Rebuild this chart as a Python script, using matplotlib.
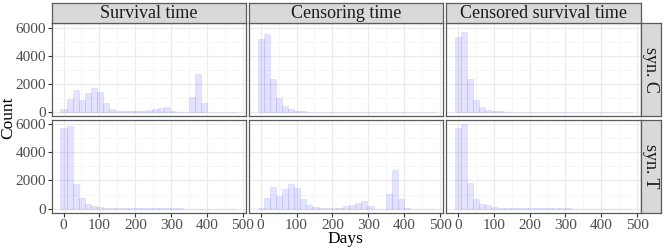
import numpy as np
import matplotlib
matplotlib.use("Agg")
import matplotlib.pyplot as plt

plt.rcParams['font.family'] = ['Liberation Serif', 'DejaVu Serif']

# histogram counts per bin (bins of ~17 days, first bin centred on 0)
bin_width = 17
n_bins = 29
bin_centers = np.arange(n_bins) * bin_width

surv_C = [210, 910, 1565, 865, 1355, 1680, 1425, 630, 210, 95, 40, 30, 30, 45, 165,
          235, 300, 375, 95, 10, 5, 1050, 2700, 650, 10, 5, 5, 5, 5]
cens_C = [5190, 5560, 2310, 1005, 445, 190, 95, 45, 25, 15, 12, 10, 10, 8, 8,
          8, 6, 6, 5, 5, 5, 5, 5, 5, 5, 5, 4, 4, 4]
censsurv_C = [5300, 5700, 2340, 865, 375, 165, 70, 30, 15, 10, 8, 6, 5, 5, 4,
              4, 4, 3, 3, 3, 3, 3, 3, 3, 2, 2, 2, 2, 2]
surv_T = [5700, 5840, 1775, 725, 350, 210, 115, 70, 45, 25, 20, 15, 12, 10, 10,
          8, 8, 7, 6, 6, 5, 5, 5, 5, 4, 4, 4, 4, 4]
cens_T = [20, 725, 1540, 865, 1425, 1750, 1495, 680, 235, 95, 70, 40, 40, 70, 210,
          280, 420, 515, 165, 5, 5, 1050, 2710, 655, 10, 5, 5, 5, 5]
censsurv_T = [5700, 6000, 1845, 655, 305, 235, 115, 70, 45, 25, 20, 15, 12, 10, 9,
              8, 7, 6, 6, 5, 5, 5, 5, 4, 4, 4, 4, 4, 4]

col_labels = ["Survival time", "Censoring time", "Censored survival time"]
row_labels = ["syn. C", "syn. T"]
data = [[surv_C, cens_C, censsurv_C],
        [surv_T, cens_T, censsurv_T]]

x_ticks = [0, 100, 200, 300, 400, 500]
y_ticks = [0, 2000, 4000, 6000]

W, H = 664, 249
fig = plt.figure(figsize=(W / 100, H / 100), dpi=100)

col_x = [51.7, 248.8, 446.0]
panel_w = 194.5
row_top = [23.3, 120.0]
panel_h = 92.8
strip_h = 20.0
strip_w = 20.0

border_col = '#5a5a5a'
strip_fill = '#d9d9d9'

def fx(px):
    return px / W

def fy(py):
    return 1 - py / H

for r in range(2):
    for c in range(3):
        x0 = col_x[c]
        top = row_top[r]
        ax = fig.add_axes([fx(x0), fy(top + panel_h), panel_w / W, panel_h / H])
        ax.bar(bin_centers, data[r][c], width=bin_width,
               facecolor=(0.0, 0.0, 1.0, 0.11), edgecolor=(0.0, 0.0, 1.0, 0.10),
               linewidth=0.5, zorder=3)
        ax.set_xlim(-33, 509)
        ax.set_ylim(-300, 6300)
        ax.set_xticks(x_ticks)
        ax.set_yticks(y_ticks)
        ax.set_xticks([50, 150, 250, 350, 450], minor=True)
        ax.set_yticks([1000, 3000, 5000], minor=True)
        ax.grid(which='major', color='#ebebeb', linewidth=0.9, zorder=0)
        ax.grid(which='minor', color='#f3f3f3', linewidth=0.5, zorder=0)
        ax.set_axisbelow(True)
        for s in ax.spines.values():
            s.set_color(border_col)
            s.set_linewidth(0.9)
        ax.tick_params(which='minor', length=0)
        ax.tick_params(which='major', length=3.2, width=0.8, color='#333333',
                       labelsize=11, labelcolor='#4d4d4d', pad=1)
        if c != 0:
            ax.tick_params(axis='y', length=0, labelleft=False)
        if r != 1:
            ax.tick_params(axis='x', length=0, labelbottom=False)

        # top strip
        if r == 0:
            sax = fig.add_axes([fx(x0), fy(top), panel_w / W, strip_h / H])
            sax.set_xticks([])
            sax.set_yticks([])
            sax.set_facecolor(strip_fill)
            for s in sax.spines.values():
                s.set_color(border_col)
                s.set_linewidth(0.9)
            sax.text(0.5, 0.47, col_labels[c], ha='center', va='center',
                     fontsize=13, color='#1a1a1a', transform=sax.transAxes)
        # right strip
        if c == 2:
            rax = fig.add_axes([fx(x0 + panel_w), fy(top + panel_h), strip_w / W, panel_h / H])
            rax.set_xticks([])
            rax.set_yticks([])
            rax.set_facecolor(strip_fill)
            for s in rax.spines.values():
                s.set_color(border_col)
                s.set_linewidth(0.9)
            rax.text(0.5, 0.5, row_labels[r], ha='center', va='center', rotation=-90,
                     fontsize=13, color='#1a1a1a', transform=rax.transAxes)

fig.text(fx(345), fy(239), "Days", ha='center', va='center', fontsize=12.5)
fig.text(fx(8), fy(118), "Count", ha='center', va='center', rotation=90, fontsize=12.5)

fig.savefig("out.png", dpi=100)
